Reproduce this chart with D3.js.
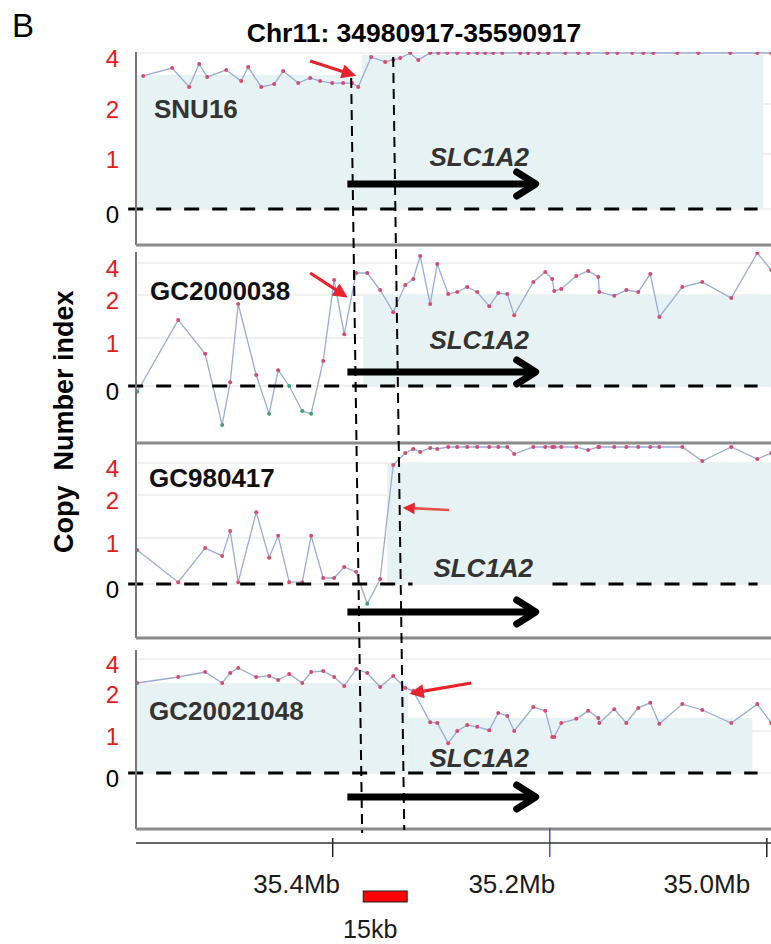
<!DOCTYPE html>
<html>
<head>
<meta charset="utf-8">
<script src="https://cdn.jsdelivr.net/npm/d3@7"></script>
<style>
  body { margin: 0; background: #fff; }
  svg { display: block; font-family: "Liberation Sans", Arial, Helvetica, sans-serif; }
</style>
</head>
<body>
<div id="chart"></div>
<script>
// ---- data -------------------------------------------------------------
var panelTag = "B";
var chrom = "Chr11";
var region = [34980917, 35590917];

var samples = ["SNU16", "GC2000038", "GC980417", "GC20021048"];
var geneName = "SLC1A2";
var geneSpan = [35.386, 35.2125];          // Mb, minus strand (arrow to the right)

var yTicks = [0, 1, 2, 4];
var xTicks = [35.4, 35.2, 35.0];

// SNU16 probes (Mb) and copy number index
var snu16Pos = [35.5742, 35.5475, 35.5318, 35.5226, 35.5152, 35.4977, 35.4839, 35.4774, 35.4654, 35.4535,
  35.4452, 35.4313, 35.4203, 35.4111, 35.4000, 35.3899, 35.3816, 35.3760, 35.3641, 35.3512,
  35.3438, 35.3373, 35.3281, 35.3207, 35.3097, 35.3023, 35.2940, 35.2848, 35.2747, 35.2664,
  35.2590, 35.2516, 35.2433, 35.2267, 35.2194, 35.2101, 35.2009, 35.1853, 35.1733, 35.1641,
  35.1465, 35.1373, 35.1235, 35.1134, 35.1041, 35.0820, 35.0627, 35.0332, 35.0083, 34.9954];
var snu16 = [3.1, 3.41, 2.67, 3.57, 3.06, 3.33, 2.9, 3.45, 2.67, 2.78,
  3.29, 2.82, 3.02, 2.9, 2.82, 2.82, 2.82, 2.67, 3.84, 3.65,
  3.73, 3.8, 4, 3.73, 4, 4, 4, 4, 4, 4,
  4, 4, 4, 4, 4, 4, 4, 4, 4, 4,
  4, 4, 4, 4, 4, 4, 4, 4, 4, 4];

// probes shared by the three tumour samples (Mb)
var probePos = [35.5797, 35.5419, 35.5171, 35.5014, 35.4940, 35.4866, 35.4700, 35.4581, 35.4498, 35.4396,
  35.4276, 35.4194, 35.4083, 35.3982, 35.3889, 35.3779, 35.3677, 35.3558, 35.3438, 35.3327,
  35.3253, 35.3189, 35.3097, 35.3032, 35.2931, 35.2848, 35.2756, 35.2664, 35.2553, 35.2470,
  35.2387, 35.2323, 35.2147, 35.2037, 35.1972, 35.1954, 35.1889, 35.1751, 35.1641, 35.1548,
  35.1539, 35.1401, 35.1290, 35.1180, 35.1069, 35.0986, 35.0774, 35.0590, 35.0323, 35.0083, 34.9954];
var gc2000038 = [-0.12, 1.42, 0.67, -0.81, 0.08, 1.79, 0.23, -0.58, 0.33, 0,
  -0.52, -0.58, 0.52, 2.94, 1.09, 3.375, 3.375, 2.31, 1.6, 2.62,
  3.0, 4.44, 1.79, 3.94, 2.06, 2.19, 2.5, 2.19, 1.74, 2.12,
  2.06, 1.53, 2.81, 3.44, 3.0, 2.25, 2.375, 3.19, 3.5, 3.125,
  2.19, 1.98, 2.31, 2.19, 3.31, 1.49, 2.5, 2.81, 1.93, 4.625, 3.56];
var gc980417 = [0.74, 0.04, 0.78, 0.61, 1.16, 0.04, 1.6, 0.57, 1.05, 0.04,
  0.04, 1.05, 0.13, 0.13, 0.37, 0.26, -0.43, 0.11, 3.875, 4.625,
  4.875, 4.69, 4.94, 4.875, 5, 5, 5, 5, 5, 5,
  5, 4.56, 5, 5, 5, 5, 5, 5, 4.81, 5,
  5, 5, 5, 5, 5, 5, 5, 4.125, 5, 4.25, 4.625];
var gc20021048 = [2.4, 2.8, 3.13, 2.4, 3.07, 3.4, 2.8, 2.87, 2.6, 3.0,
  2.4, 3.13, 3.2, 2.8, 2.2, 3.33, 3.07, 2.13, 2.87, 2.07,
  1.95, null, 1.21, 1.19, 0.71, 1.0, 1.14, 1.1, 1.02, 1.43,
  1.36, 1.0, 1.57, 1.48, 0.86, 0.86, 1.19, 1.29, 1.48, 1.31,
  1.19, 1.52, 1.19, 1.55, 1.67, 1.17, 1.64, 1.5, 1.19, 1.64, 1.19];

// segments [from Mb, to Mb, level]
var snu16Seg = [[35.5806, 35.3724, 3.14], [35.3724, 35.0028, 3.92]];
var gc2000038Seg = [[35.3714, 34.98, 2]];
var gc980417Seg = [[35.3493, 34.98, 4]];
var gc20021048Seg = [[35.5806, 35.33, 2.4], [35.33, 35.0129, 1.31]];

// red arrows, [tail, tip] as [Mb, copy number]
var breakArrows = [
  [[35.4203, 3.69], [35.3806, 3.14]],
  [[35.4203, 3.375], [35.388, 1.98]],
  [[35.2922, 1.65], [35.3327, 1.70]],
  [[35.2719, 2.4], [35.3263, 1.9]]
];

// breakpoint guide lines [Mb at top, Mb at bottom]
var breakLines = [[35.3825, 35.3724], [35.3438, 35.3336]];
var zeroSpan = [35.588, 35.008];
var zeroGap = [35.326, 35.197];     // hidden part of the GC980417 baseline
var scaleBar = [35.3714, 35.3309];
var scaleBarLabel = "15kb";
var yTitle = "Copy  Number index";

var cnData = [snu16, gc2000038, gc980417, gc20021048];
var cnPos = [snu16Pos, probePos, probePos, probePos];
var segData = [snu16Seg, gc2000038Seg, gc980417Seg, gc20021048Seg];

// ---- layout -------------------------------------------------------------
var W = 771, H = 944;
var plotLeft = 136, plotRight = 771;

var layout = [
  { top: 52, bottom: 245, yr: [209, 154, 104, 53], geneY: 184, geneLabelY: 166, nameX: 154, nameY: 118, nameColor: "#333" },
  { top: 252, bottom: 443, yr: [386, 338, 295, 263], geneY: 372, geneLabelY: 349, nameX: 150, nameY: 300, nameColor: "#111" },
  { top: 443, bottom: 638, yr: [584, 538, 495, 463], geneY: 612, geneLabelY: 577, nameX: 149, nameY: 487, nameColor: "#111", gap: true },
  { top: 650, bottom: 829, yr: [773, 731, 689, 659], geneY: 797, geneLabelY: 767, nameX: 149, nameY: 720, nameColor: "#333" }
];
var breakLineY = [[78, 833], [57, 830]];
var xAxisY = 843;
var xLabelShift = [-36, -38, -60];

var svg = d3.select("#chart")
  .append("svg")
  .attr("width", W)
  .attr("height", H);

var defs = svg.append("defs");
defs.append("marker")
  .attr("id", "redhead")
  .attr("viewBox", "0 0 10 10")
  .attr("refX", 8).attr("refY", 5)
  .attr("markerWidth", 5.5).attr("markerHeight", 4.5)
  .attr("orient", "auto")
  .append("path")
  .attr("d", "M0,0 L10,5 L0,10 z")
  .style("fill", "#e8232b");

// x scale: whole region, reversed
var x = d3.scaleLinear()
  .domain([region[1] / 1e6, region[0] / 1e6])
  .range([125, 787]);

svg.append("text")
  .attr("x", 12).attr("y", 37)
  .style("font-size", "33px")
  .text(panelTag);

svg.append("text")
  .attr("x", 414).attr("y", 42)
  .attr("text-anchor", "middle")
  .style("font-size", "26.5px")
  .style("font-weight", "bold")
  .text(chrom + ": " + region[0] + "-" + region[1]);

// y axis title
svg.append("text")
  .attr("transform", "translate(73,553) rotate(-90)")
  .attr("xml:space", "preserve")
  .style("white-space", "pre")
  .style("font-size", "27px")
  .style("font-weight", "bold")
  .text(yTitle);

var line = d3.line()
  .defined(function (d) { return d[1] != null; });

layout.forEach(function (L, p) {
  var y = d3.scaleLinear().domain(yTicks).range(L.yr);
  var g = svg.append("g");

  defs.append("clipPath").attr("id", "clip" + p)
    .append("rect")
    .attr("x", plotLeft).attr("y", L.top)
    .attr("width", plotRight - plotLeft).attr("height", L.bottom - L.top);

  var inner = g.append("g").attr("clip-path", "url(#clip" + p + ")");

  // faint grid
  inner.selectAll("line.grid")
    .data(yTicks)
    .enter().append("line")
    .attr("x1", plotLeft).attr("x2", plotRight)
    .attr("y1", function (d) { return y(d); })
    .attr("y2", function (d) { return y(d); })
    .attr("stroke", "#e3e3e3")
    .attr("stroke-width", 1);

  // segment shading
  inner.selectAll("rect.seg")
    .data(segData[p])
    .enter().append("rect")
    .attr("x", function (d) { return x(d[0]); })
    .attr("width", function (d) { return x(d[1]) - x(d[0]); })
    .attr("y", function (d) { return y(d[2]); })
    .attr("height", function (d) { return y(0) - y(d[2]); })
    .attr("fill", "#e7f2f4");

  // zero line
  var spans = L.gap ? [[zeroSpan[0], zeroGap[0]], [zeroGap[1], zeroSpan[1]]] : [zeroSpan];
  g.selectAll("line.zero")
    .data(spans)
    .enter().append("line")
    .attr("x1", function (d) { return x(d[0]); })
    .attr("x2", function (d) { return x(d[1]); })
    .attr("y1", y(0)).attr("y2", y(0))
    .attr("stroke", "#000")
    .attr("stroke-width", 3)
    .attr("stroke-dasharray", "15,13");

  // copy number profile
  var pts = cnPos[p].map(function (pos, i) { return [pos, cnData[p][i]]; });
  var shown = pts.filter(function (d) { return d[1] != null; });
  inner.append("path")
    .attr("d", line.x(function (d) { return x(d[0]); }).y(function (d) { return y(d[1]); })(shown))
    .attr("fill", "none")
    .attr("stroke", "#97acd9")
    .attr("stroke-width", 1.3);

  inner.selectAll("circle")
    .data(shown)
    .enter().append("circle")
    .attr("cx", function (d) { return x(d[0]); })
    .attr("cy", function (d) { return y(d[1]); })
    .attr("r", 2)
    .attr("fill", function (d) { return (p > 0 && d[1] <= 0) ? "#3f9f7c" : "#d84a70"; });

  // gene arrow
  var gx0 = x(geneSpan[0]), gx1 = x(geneSpan[1]);
  g.append("line")
    .attr("x1", gx0).attr("x2", gx1 - 3)
    .attr("y1", L.geneY).attr("y2", L.geneY)
    .attr("stroke", "#000").attr("stroke-width", 7);
  g.append("path")
    .attr("d", "M" + (gx1 - 19) + "," + (L.geneY - 12) + "L" + gx1 + "," + L.geneY + "L" + (gx1 - 19) + "," + (L.geneY + 12))
    .attr("fill", "none")
    .attr("stroke", "#000").attr("stroke-width", 7)
    .attr("stroke-linecap", "round").attr("stroke-linejoin", "round");

  g.append("text")
    .attr("x", gx0 + (p === 2 ? 86 : 82))
    .attr("y", L.geneLabelY)
    .style("font-size", "26px")
    .style("font-weight", "bold")
    .style("font-style", "italic")
    .attr("fill", "#333")
    .text(geneName);

  g.append("text")
    .attr("x", L.nameX).attr("y", L.nameY)
    .style("font-size", "26px")
    .style("font-weight", "bold")
    .attr("fill", L.nameColor)
    .text(samples[p]);

  // red arrow to the breakpoint
  var a = breakArrows[p];
  g.append("line")
    .attr("x1", x(a[0][0])).attr("y1", y(a[0][1]))
    .attr("x2", x(a[1][0])).attr("y2", y(a[1][1]))
    .attr("stroke", p === 2 ? "#e5524a" : "#e8232b")
    .attr("stroke-width", p === 2 ? 2.6 : 3.2)
    .attr("marker-end", "url(#redhead)");

  // frame
  g.append("line")
    .attr("x1", plotLeft).attr("x2", plotLeft)
    .attr("y1", L.top).attr("y2", L.bottom)
    .attr("stroke", "#777").attr("stroke-width", 2);
  g.append("line")
    .attr("x1", plotLeft).attr("x2", plotRight)
    .attr("y1", L.bottom).attr("y2", L.bottom)
    .attr("stroke", "#8a8a8a").attr("stroke-width", 3);

  // y axis labels
  var ax = g.append("g")
    .attr("transform", "translate(" + plotLeft + ",0)")
    .call(d3.axisLeft(y).tickValues(yTicks).tickSize(0).tickPadding(17).tickFormat(d3.format("d")));
  ax.select(".domain").remove();
  ax.selectAll("text")
    .attr("dy", "0.55em")
    .style("font-size", "24px")
    .style("font-family", "Liberation Sans, Arial, sans-serif")
    .attr("fill", function (d) { return d === 0 ? "#000" : "#e8191e"; });
});

// breakpoint guide lines
svg.selectAll("line.guide")
  .data(breakLines)
  .enter().append("line")
  .attr("x1", function (d) { return x(d[0]); })
  .attr("x2", function (d) { return x(d[1]); })
  .attr("y1", function (d, i) { return breakLineY[i][0]; })
  .attr("y2", function (d, i) { return breakLineY[i][1]; })
  .attr("stroke", "#000")
  .attr("stroke-width", 2)
  .attr("stroke-dasharray", "10,6");

// x axis
var xa = svg.append("g")
  .attr("transform", "translate(0," + xAxisY + ")")
  .call(d3.axisBottom(x).tickValues(xTicks).tickSize(14).tickSizeOuter(0)
    .tickFormat(function (d) { return d.toFixed(1) + "Mb"; }));
xa.select(".domain").remove();
xa.append("line")
  .attr("x1", plotLeft).attr("x2", plotRight)
  .attr("stroke", "#333").attr("stroke-width", 1.6);
xa.selectAll(".tick line")
  .attr("y1", function (d, i) { return i === 1 ? -15 : -5; })
  .attr("stroke", function (d, i) { return i === 1 ? "#4455bb" : "#222"; })
  .attr("stroke-width", 1.5);
xa.selectAll(".tick text")
  .attr("y", 50).attr("dy", 0)
  .attr("dx", function (d, i) { return xLabelShift[i]; })
  .attr("fill", "#1a1a1a")
  .style("font-size", "26px")
  .style("font-family", "Liberation Sans, Arial, sans-serif");

// scale bar
svg.append("rect")
  .attr("x", x(scaleBar[0])).attr("y", 891)
  .attr("width", x(scaleBar[1]) - x(scaleBar[0])).attr("height", 11)
  .attr("fill", "#ff0000").attr("stroke", "#222").attr("stroke-width", 1);
svg.append("text")
  .attr("x", (x(scaleBar[0]) + x(scaleBar[1])) / 2 - 15).attr("y", 938)
  .attr("text-anchor", "middle")
  .style("font-size", "25px")
  .attr("fill", "#1a1a1a")
  .text(scaleBarLabel);
</script>
</body>
</html>
